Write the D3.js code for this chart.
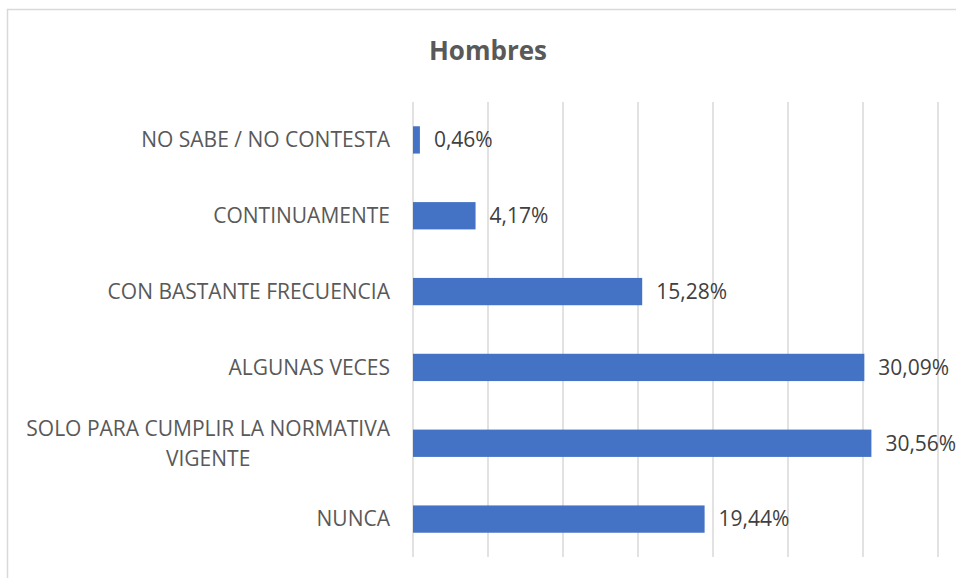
<!DOCTYPE html>
<html>
<head>
<meta charset="utf-8">
<script src="https://cdn.jsdelivr.net/npm/d3@7"></script>
<style>
  body { margin: 0; background: #fff; }
  text { font-family: 'Open Sans', 'Liberation Sans', sans-serif; }
</style>
</head>
<body>
<svg id="chart"></svg>
<script>
const title = 'Hombres';
const categories = [
  ['NO SABE / NO CONTESTA'],
  ['CONTINUAMENTE'],
  ['CON BASTANTE FRECUENCIA'],
  ['ALGUNAS VECES'],
  ['SOLO PARA CUMPLIR LA NORMATIVA', 'VIGENTE'],
  ['NUNCA']
];
const values = [0.46, 4.17, 15.28, 30.09, 30.56, 19.44];
const gridTicks = [0, 5, 10, 15, 20, 25, 30, 35];

const width = 956;
const height = 578;
const margin = { top: 102, right: 18, bottom: 21, left: 413 };

const svg = d3.select('#chart')
  .attr('width', width)
  .attr('height', height);

// chart frame
svg.append('rect')
  .attr('x', 7.5).attr('y', 9.5)
  .attr('width', 1000).attr('height', 1000)
  .attr('fill', 'none')
  .attr('stroke', '#d9d9d9')
  .attr('stroke-width', 1.5);

svg.append('text')
  .attr('x', 488).attr('y', 60)
  .attr('text-anchor', 'middle')
  .style('font-size', '26px')
  .style('font-weight', 'bold')
  .style('fill', '#595959')
  .text(title);

const x = d3.scaleLinear()
  .domain([0, 35])
  .range([margin.left, width - margin.right]);

const y = d3.scaleBand()
  .domain(d3.range(categories.length))
  .range([margin.top, height - margin.bottom])
  .paddingInner(0.64)
  .paddingOuter(0.32);

const g = svg.append('g');

g.selectAll('line.grid')
  .data(gridTicks)
  .enter()
  .append('line')
  .attr('class', 'grid')
  .attr('x1', d => x(d)).attr('x2', d => x(d))
  .attr('y1', margin.top).attr('y2', height - margin.bottom)
  .attr('stroke', '#d9d9d9')
  .attr('stroke-width', 1.5);

g.selectAll('rect.bar')
  .data(values)
  .enter()
  .append('rect')
  .attr('class', 'bar')
  .attr('x', x(0))
  .attr('y', (d, i) => y(i))
  .attr('width', d => x(d) - x(0))
  .attr('height', y.bandwidth())
  .attr('fill', '#4472c4');

g.selectAll('text.value')
  .data(values)
  .enter()
  .append('text')
  .attr('class', 'value')
  .attr('x', d => x(d) + 14)
  .attr('y', (d, i) => y(i) + y.bandwidth() / 2)
  .attr('dy', '0.35em')
  .style('font-size', '21px')
  .style('fill', '#404040')
  .text(d => d.toFixed(2).replace('.', ',') + '%');

const labels = g.selectAll('g.cat')
  .data(categories)
  .enter()
  .append('g')
  .attr('class', 'cat');

labels.each(function (lines, i) {
  const sel = d3.select(this);
  const cy = y(i) + y.bandwidth() / 2;
  const lh = 30;
  const t = sel.append('text')
    .style('font-size', '21px')
    .style('fill', '#595959')
    .attr('text-anchor', 'middle');
  const spans = lines.map((line, j) => t.append('tspan')
    .attr('y', cy + (j - (lines.length - 1) / 2) * lh)
    .attr('dy', '0.35em')
    .text(line));
  const w = d3.max(spans, s => s.node().getComputedTextLength());
  spans.forEach(s => s.attr('x', x(0) - 23 - w / 2));
});
</script>
</body>
</html>
